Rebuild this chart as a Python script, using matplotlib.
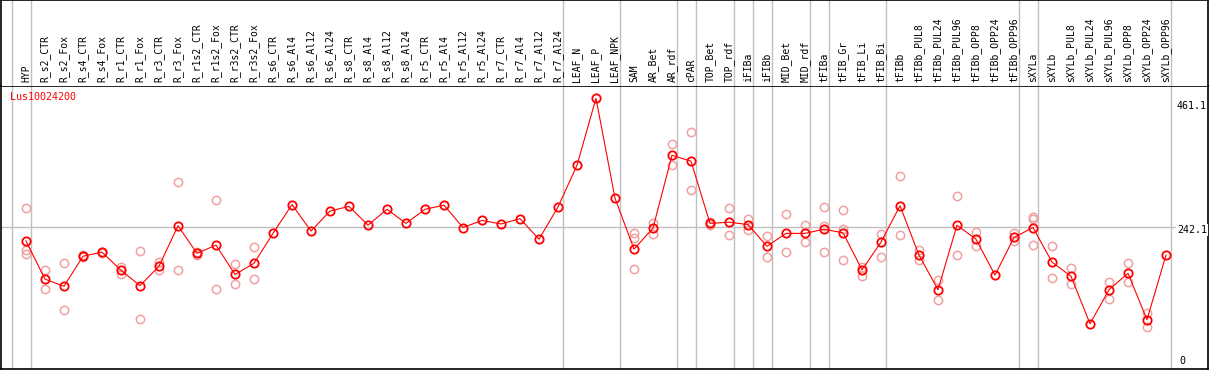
import matplotlib
matplotlib.use("Agg")
import matplotlib.pyplot as plt

# gene expression profile, means + replicates per sample
gene = "Lus10024200"

categories = ["HYP", "R_s2_CTR", "R_s2_Fox", "R_s4_CTR", "R_s4_Fox", "R_r1_CTR", "R_r1_Fox",
              "R_r3_CTR", "R_r3_Fox", "R_r1s2_CTR", "R_r1s2_Fox", "R_r3s2_CTR", "R_r3s2_Fox",
              "R_s6_CTR", "R_s6_Al4", "R_s6_Al12", "R_s6_Al24", "R_s8_CTR", "R_s8_Al4",
              "R_s8_Al12", "R_s8_Al24", "R_r5_CTR", "R_r5_Al4", "R_r5_Al12", "R_r5_Al24",
              "R_r7_CTR", "R_r7_Al4", "R_r7_Al12", "R_r7_Al24", "LEAF_N", "LEAF_P", "LEAF_NPK",
              "SAM", "AR_Bet", "AR_rdf", "cPAR", "TOP_Bet", "TOP_rdf", "iFIBa", "iFIBb",
              "MID_Bet", "MID_rdf", "tFIBa", "tFIB_Gr", "tFIB_Li", "tFIB_Bi", "tFIBb",
              "tFIBb_PUL8", "tFIBb_PUL24", "tFIBb_PUL96", "tFIBb_OPP8", "tFIBb_OPP24",
              "tFIBb_OPP96", "sXYLa", "sXYLb", "sXYLb_PUL8", "sXYLb_PUL24", "sXYLb_PUL96",
              "sXYLb_OPP8", "sXYLb_OPP24", "sXYLb_OPP96"]

means = [218, 153, 141, 192, 199, 168, 142, 175, 244, 197, 211, 161, 180,
         231, 280, 235, 269, 277, 245, 272, 248, 272, 279, 241, 253, 247, 256, 221, 276,
         347, 461.1, 291,
         204, 240, 364, 354, 248, 250, 246, 209, 231, 231,
         238, 232, 169, 216, 278,
         194, 135, 245, 221, 160, 224,
         241, 182,
         158, 77, 135, 163, 84, 194]

reps = [[274, 203, 196], [169, 137], [180, 101], [194, 190], [200, 197], [173, 162],
        [201, 85], [182, 169], [319, 169], [199, 195], [287, 136], [178, 144], [207, 153],
        [], [], [], [], [], [], [], [], [], [], [], [], [], [], [], [],
        [], [], [],
        [231, 223, 170], [249, 230], [383, 347], [403, 305], [250, 246], [274, 228],
        [256, 237], [226, 191], [264, 199], [245, 216],
        [276, 244, 199], [270, 239, 186], [174, 159], [230, 190], [329, 228],
        [203, 186], [152, 118], [294, 194], [233, 209], [], [232, 218],
        [259, 255, 211], [209, 155],
        [172, 144], [], [148, 119], [181, 148], [96, 71], []]

# last sample index of each group (separator drawn just after)
group_ends = [-1, 0, 28, 31, 34, 35, 37, 38, 39, 41, 42, 45, 52, 53, 60]
ref_value = 242.1
y_max_label = 461.1

W, H = 1209, 370
fig = plt.figure(figsize=(W / 100, H / 100), dpi=100)
plot_top = 86
plot_bot = 369
left, right = 1, 1208
ax = fig.add_axes([left / W, (H - plot_bot) / H, (right - left) / W, (plot_bot - plot_top) / H])
axh = fig.add_axes([left / W, (H - plot_top) / H, (right - left) / W, plot_top / H])

x0, dx = 26, 19
xlim = ((left - x0) / dx, (right - x0) / dx)
for a in (ax, axh):
    a.set_xlim(*xlim)
    a.set_xticks([])
    a.set_yticks([])
    for s in a.spines.values():
        s.set_color("black")
        s.set_linewidth(1.2)
ax.set_ylim(0, 482.0)
axh.set_ylim(0, plot_top)
axh.spines["bottom"].set_visible(False)

gray = "#c0c0c0"
for g in group_ends:
    ax.axvline(g + 0.25, color=gray, lw=1, zorder=1)
    axh.axvline(g + 0.25, color=gray, lw=1, zorder=1)
ax.axhline(ref_value, color=gray, lw=1, zorder=1)

idx = list(range(len(categories)))
rx = [i for i, r in enumerate(reps) for _ in r]
ry = [v for r in reps for v in r]
ax.plot(rx, ry, ls="none", marker="o", ms=6, mfc="none", mec="#f0a0a0", mew=1.1, zorder=2)
ax.plot(idx, means, color="red", lw=0.8, marker="o", ms=6, mfc="none", mec="red",
        mew=1.3, zorder=3)

mono = "DejaVu Sans Mono"
for i, c in enumerate(categories):
    axh.text(i, plot_top - 82, c, rotation=90, ha="center", va="bottom",
             fontsize=7, family=mono)

ax.text((10 - left) / (right - left), (plot_bot - 97.3) / (plot_bot - plot_top), gene,
        transform=ax.transAxes, color="red", fontsize=7.2, family=mono, va="center", ha="left")

lab_x = (1177 - x0) / dx
ax.annotate("%.1f" % y_max_label, (lab_x, y_max_label), xytext=(0, -3), textcoords="offset pixels",
            fontsize=7.2, family=mono, va="top", ha="left")
ax.annotate("%.1f" % ref_value, (lab_x, ref_value), xytext=(0, -3), textcoords="offset pixels",
            fontsize=7.2, family=mono, va="center", ha="left",
            bbox=dict(fc="white", ec="none", pad=0.5))
ax.annotate("0", (lab_x + 0.15, 0), xytext=(0, 3), textcoords="offset pixels",
            fontsize=7.2, family=mono, va="bottom", ha="left")

fig.savefig("out.png", dpi=100)
